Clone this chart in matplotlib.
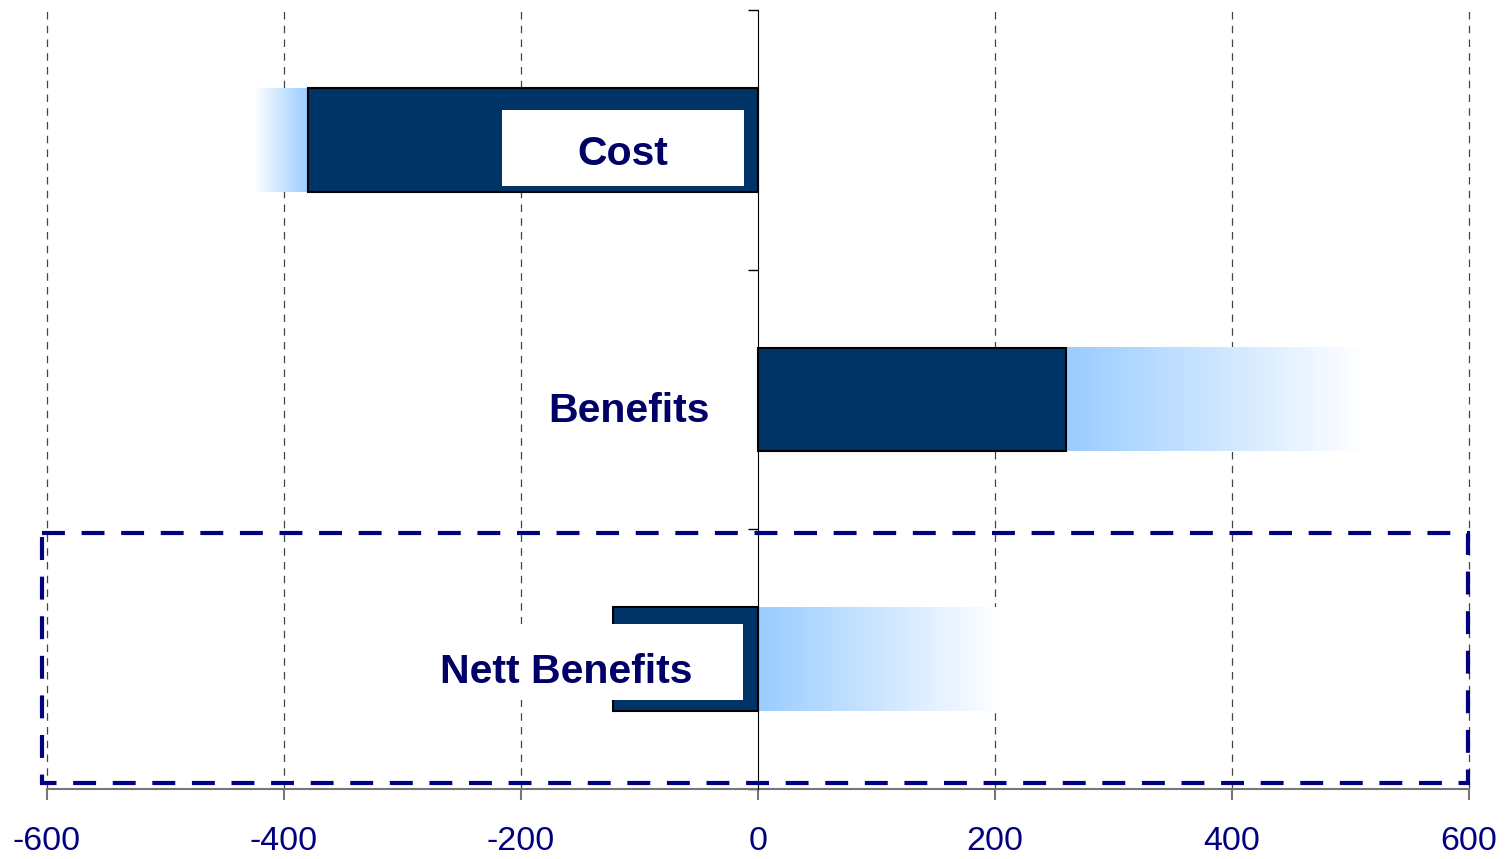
import matplotlib.pyplot as plt
import numpy as np
from matplotlib.colors import LinearSegmentedColormap
from matplotlib.patches import Rectangle

categories = ["Cost", "Benefits", "Nett Benefits"]
solid_values = [-380, 260, -122]      # dark bar extent
fade_start = [-380, 260, 0]           # where the light range begins
fade_end = [-425, 510, 205]           # where the light range fades out
label_x = [-114, -109, -162]
label_dy = [0.097, 0.087, 0.092]      # baseline offset below the bar centre
box_left = [-216, -216, -330]
box_right = [-12, -12, -13]
box_dy = [0.033, 0.033, 0.011]
xticks = [-600, -400, -200, 0, 200, 400, 600]

navy = "#000080"
bar_color = "#003366"
fade = LinearSegmentedColormap.from_list("fade", ["#99CCFF", "#FFFFFF"])

fig = plt.figure(figsize=(15.11, 8.59), dpi=100)
ax = fig.add_axes([47 / 1511, 1 - 789 / 859, 1422 / 1511, 779 / 859])
ax.set_xlim(-600, 600)
ax.set_ylim(2.5, -0.5)

bar_h = 0.4
ramp = np.linspace(0, 1, 256).reshape(1, -1)
for i, name in enumerate(categories):
    # light range fading out away from zero
    x0, x1 = fade_start[i], fade_end[i]
    ax.imshow(ramp, cmap=fade, aspect="auto", interpolation="bilinear",
              extent=(x0, x1, i + bar_h / 2, i - bar_h / 2), zorder=2)
    ax.barh(i, solid_values[i], height=bar_h, color=bar_color,
            edgecolor="black", linewidth=1.5, zorder=3)
    if name != "Benefits":
        ax.add_patch(Rectangle((box_left[i], i + box_dy[i] - 0.146),
                               box_right[i] - box_left[i], 0.292,
                               facecolor="white", edgecolor="none", zorder=4))
    ax.text(label_x[i], i + label_dy[i], name, ha="center", va="baseline",
            fontsize=29.5, fontweight="bold", color="#000066",
            family=["Liberation Sans", "DejaVu Sans"], zorder=5)

# dashed frame round the net result
ax.add_patch(Rectangle((-604, 1.514), 1203, 0.963, fill=False, edgecolor=navy,
                       linewidth=3, linestyle=(0, (5.5, 4)), clip_on=False, zorder=6))

for x in xticks:
    if x != 0:
        ax.axvline(x, color="#444444", linestyle=(0, (6, 5)), linewidth=0.9,
                   clip_on=False, zorder=1)

ax.spines["top"].set_visible(False)
ax.spines["right"].set_visible(False)
ax.spines["left"].set_position(("data", 0))
ax.spines["left"].set_zorder(5)
ax.spines["bottom"].set_color("#777777")
ax.spines["bottom"].set_linewidth(1.5)

ax.set_yticks([-0.5, 0.5, 1.5, 2.5])
ax.set_yticklabels([])
ax.tick_params(axis="y", direction="out", length=7.5, width=1, color="black")
ax.set_xticks(xticks)
ax.set_xticklabels([str(x) for x in xticks])
ax.tick_params(axis="x", direction="out", length=8, width=1.5, color="#777777",
               labelsize=24.5, labelcolor=navy, pad=19)
for lab in ax.get_xticklabels():
    lab.set_family(["Liberation Sans", "DejaVu Sans"])

fig.savefig("out.png", dpi=100)
